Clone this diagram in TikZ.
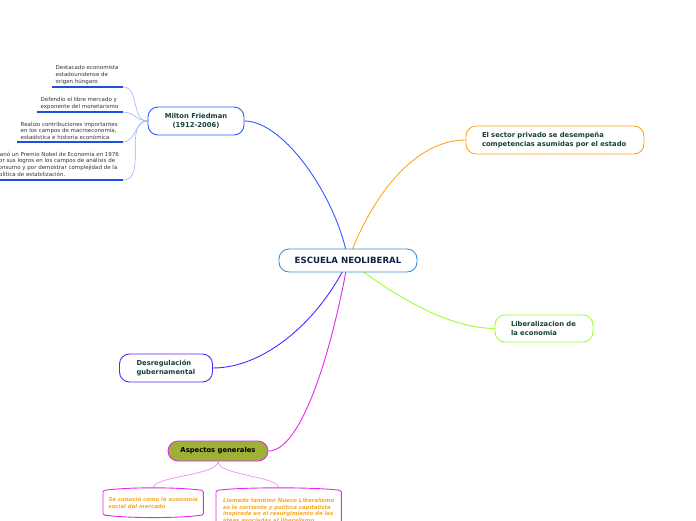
\documentclass[tikz,border=0pt]{standalone}
\usepackage{fontspec}
\setmainfont{DejaVu Sans}
\definecolor{MapNavy}{HTML}{0D2244}
\definecolor{MapText}{HTML}{16413A}
\definecolor{CentreLine}{HTML}{3A8FD0}
\definecolor{FriedBlue}{HTML}{2E5BFF}
\definecolor{LeafBlue}{HTML}{1F4FE0}
\definecolor{LeafLink}{HTML}{9DB4FF}
\definecolor{PrivOrange}{HTML}{FFA51F}
\definecolor{LibGreen}{HTML}{99FF33}
\definecolor{DesPurple}{HTML}{5C22FF}
\definecolor{AspMagenta}{HTML}{E626F0}
\definecolor{AspFill}{HTML}{9DB234}
\definecolor{AspLink}{HTML}{F28CF5}
\definecolor{NoteOrange}{HTML}{F7A823}
\usetikzlibrary{calc,positioning,backgrounds}
\tikzset{
	topic/.style={
		rectangle,
		rounded corners=10pt,
		fill=white,
		draw, line width=0.9pt,
		minimum height=28pt,
		font=\fontsize{6.8}{8.6}\selectfont\bfseries,
		text=MapText,
		align=left},
	leaf/.style={
		anchor=south west,
		inner xsep=3.5pt, inner ysep=2.5pt,
		align=left,
		font=\fontsize{5.5}{6.6}\selectfont,
		text=black!80},
	underline/.style={draw=LeafBlue, line width=1.4pt},
	leaflink/.style={draw=LeafLink, line width=0.6pt},
	branch/.style={line width=0.9pt},
	note/.style={
		anchor=north west,
		inner xsep=5pt, inner ysep=4pt,
		align=left,
		font=\fontsize{5.4}{6.8}\selectfont\bfseries\itshape,
		text=NoteOrange},
}
\newcommand*\notebox[1]{
	\draw[draw=AspMagenta, line width=0.9pt, rounded corners=1.5pt]
	($(#1.north west)+(0,2.5)$) .. controls ($(#1.north west)+(25,-1)$) and ($(#1.north east)+(-25,-1)$) .. ($(#1.north east)+(0,2.5)$)
	-- ($(#1.south east)+(0,-2.5)$) .. controls ($(#1.south east)+(-25,1)$) and ($(#1.south west)+(25,1)$) .. ($(#1.south west)+(0,-2.5)$)
	-- cycle;}

\begin{document}
\begin{tikzpicture}[x=1pt, y=-1pt]
\useasboundingbox (0,0) rectangle (696,520);
% main topics
\node[topic, draw=CentreLine, text=MapNavy, align=center, minimum width=138pt, minimum height=23pt,
	font=\fontsize{8.6}{10}\selectfont\bfseries] (neo) at (348,260.5) {ESCUELA NEOLIBERAL};
\node[topic, draw=FriedBlue, align=center, minimum width=96pt] (fried) at (196,121) {Milton Friedman\\(1912-2006)};
\node[topic, draw=PrivOrange, inner xsep=16pt, text width=146pt] (priv) at (555,140) {El sector privado se desempeña\\competencias asumidas por el estado};
\node[topic, draw=LibGreen, inner xsep=16pt, text width=66pt, minimum height=27pt] (lib) at (544,328.5) {Liberalizacion de\\ la economia};
\node[topic, draw=DesPurple, inner xsep=17pt, text width=59pt] (des) at (166,368) {Desregulación\\gubernamental};
\node[topic, draw=AspMagenta, fill=AspFill, text=black, align=center, minimum width=100pt, minimum height=20pt] (asp) at (218,451) {Aspectos generales};

% Friedman leaves
\coordinate (lend) at (123,0);
\node[leaf] (l1) at (52,87) {Destacado economista\\estadounidense de\\origen húngaro};
\node[leaf] (l2) at (37,112) {Defendio el libre mercado y\\exponente del monetarismo};
\node[leaf] (l3) at (17,142) {Realizo contribuciones importantes\\en los campos de macroeconomía,\\estadística e historia económica};
\node[leaf] (l4) at (-8,180) {Ganó un Premio Nobel de Economía en 1976\\por sus logros en los campos de análisis de\\consumo y por demostrar complejidad de la\\política de estabilización.};
\foreach \l in {l1,l2,l3,l4}
	\draw[underline] (\l.south west) -- (\l.south west -| lend);

% notes under Aspectos generales
\node[note, minimum width=100pt, minimum height=29pt] (n1) at (103,488) {Se conoció como la economía\\social del mercado};
\node[note, minimum width=125pt, minimum height=40pt, inner ysep=10pt] (n2) at (216,488) {Llamado tambien Nuevo Liberalismo\\es la corriente y política capitalista\\inspirada en el resurgimiento de las\\ideas asociadas al liberalismo};
\notebox{n1}
\notebox{n2}

\begin{scope}[on background layer]
\draw[branch, FriedBlue] (neo.center) .. controls (338,200) and (285,121) .. (fried.east);
\draw[branch, PrivOrange] (neo.center) .. controls (372,195) and (415,140) .. (priv.west);
\draw[branch, LibGreen] (neo.center) .. controls (400,300) and (450,328) .. (lib.west);
\draw[branch, DesPurple] (neo.center) .. controls (320,320) and (265,368) .. (des.east);
\draw[branch, AspMagenta] (neo.center) .. controls (330,360) and (300,451) .. (asp.east);
\foreach \l in {l1,l2,l3,l4}
	\draw[leaflink] (fried.west) to[out=180, in=0] (\l.south west -| lend);
\draw[AspLink, line width=0.7pt] (asp.south) .. controls +(0,14) and +(0,-12) .. (n1.north);
\draw[AspLink, line width=0.7pt] (asp.south) .. controls +(0,14) and +(0,-12) .. (n2.north);
\end{scope}
\end{tikzpicture}
\end{document}
